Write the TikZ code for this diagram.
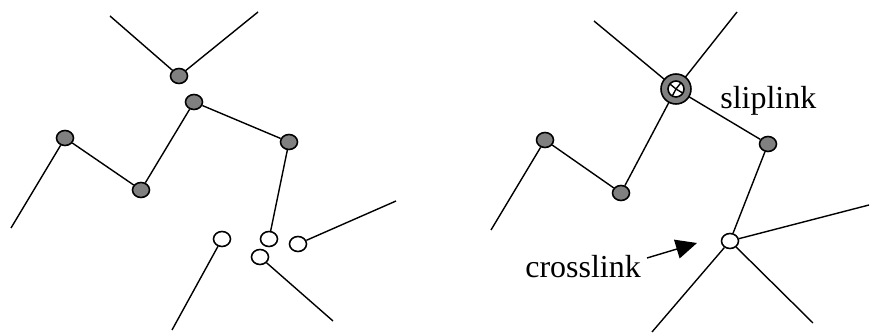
\documentclass[tikz,border=0pt]{standalone}
\usepackage{fontspec}
\setmainfont{Liberation Serif}
\usetikzlibrary{shapes.geometric,arrows.meta}
\begin{document}
\begin{tikzpicture}[x=0.02cm,y=-0.02cm]
\tikzstyle{bead}=[ellipse,draw,fill=gray,line width=0.9pt,minimum width=0.34cm,minimum height=0.3cm,inner sep=0pt]
\tikzstyle{open}=[ellipse,draw,fill=white,line width=0.9pt,minimum width=0.34cm,minimum height=0.3cm,inner sep=0pt]
\tikzstyle{strand}=[line width=0.8pt]
\tikzstyle{tag}=[inner sep=0pt,anchor=base west,font=\fontsize{18.2}{20}\selectfont]
\useasboundingbox (0,0) rectangle (870,334);
% before linking
\node [bead] (v) at (179,76) {};
\node [bead] (a) at (65,138) {};
\node [bead] (b) at (141,190) {};
\node [bead] (c) at (194,102) {};
\node [bead] (d) at (289,142) {};
\node [open] (e) at (269,239) {};
\node [open] (f) at (222,239) {};
\node [open] (g) at (260,257) {};
\node [open] (h) at (298,244) {};
\coordinate (v1) at (110,16);
\coordinate (v2) at (258,12);
\coordinate (a0) at (11,228);
\coordinate (f0) at (172,330);
\coordinate (g0) at (333,321);
\coordinate (h0) at (396,201);
\draw [strand] (v1) -- (v) -- (v2);
\draw [strand] (a0) -- (a) -- (b) -- (c) -- (d) -- (e);
\draw [strand] (f) -- (f0);
\draw [strand] (g) -- (g0);
\draw [strand] (h) -- (h0);
% after linking
\node [bead] (ra) at (545,140) {};
\node [bead] (rb) at (621,193) {};
\node [bead] (rd) at (768,144) {};
\node [open] (x) at (730,241) {};
\coordinate (slip) at (676,89);
\coordinate (s1) at (594,21);
\coordinate (s2) at (737,12);
\coordinate (ra0) at (491,230);
\coordinate (x1) at (869,205);
\coordinate (x2) at (652,332);
\coordinate (x3) at (813,323);
\draw [strand] (s1) -- (slip) -- (rd) -- (x);
\draw [strand] (s2) -- (slip) -- (rb) -- (ra) -- (ra0);
\draw [strand] (x) -- (x1);
\draw [strand] (x) -- (x2);
\draw [strand] (x) -- (x3);
\fill [gray,even odd rule] (slip) circle (15) circle (8);
\draw [line width=0.9pt] (slip) circle (15) (slip) circle (8);
\node [tag] (sl) at (720,109) {sliplink};
\node [tag] (cl) at (525,278) {crosslink};
\coordinate (t0) at (647,258);
\coordinate (t1) at (697,243);
\draw [strand,-{Triangle[length=12pt,width=11pt]}] (t0) -- (t1);
\end{tikzpicture}
\end{document}
